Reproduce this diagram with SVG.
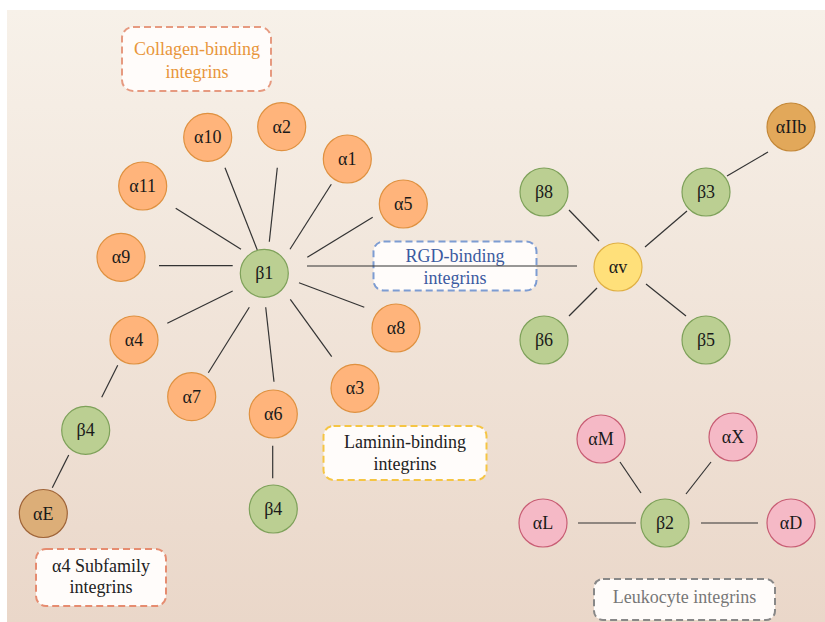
<svg xmlns="http://www.w3.org/2000/svg" width="825" height="622" viewBox="0 0 825 622">
<defs>
<linearGradient id="bg" x1="0" y1="0" x2="0" y2="1">
<stop offset="0" stop-color="#f7f1e9"/>
<stop offset="1" stop-color="#ead7c9"/>
</linearGradient>
<style>
.n text{font-family:"Liberation Serif","Times New Roman",serif;font-size:18px;fill:#1a1a1a;text-anchor:middle;dominant-baseline:central}
.o circle{fill:#ffb47b;stroke:#df9140;stroke-width:1.2}
.g circle{fill:#bbcf92;stroke:#7ea15a;stroke-width:1.2}
.p circle{fill:#f5b9c6;stroke:#c85d74;stroke-width:1.2}
.y circle{fill:#ffe07a;stroke:#e0b044;stroke-width:1.2}
.e circle{fill:#dcae78;stroke:#9f6438;stroke-width:1.2}
.b circle{fill:#e2a85a;stroke:#c48838;stroke-width:1.2}
.box rect{fill:#fffcfa;stroke-width:2;stroke-dasharray:7 4}
.box text{font-family:"Liberation Serif","Times New Roman",serif;font-size:18px;text-anchor:middle}
#edges line{stroke:#333;stroke-width:1.2}
</style>
</defs>
<rect x="0" y="0" width="825" height="622" fill="#ffffff"/>
<rect x="7" y="10" width="818" height="612" fill="url(#bg)"/>

<g id="box-collagen" class="box"><rect x="122" y="27" width="149" height="64" rx="11" stroke="#e69a80"/><text x="197" y="55" fill="#e8963a">Collagen-binding</text><text x="197" y="78" fill="#e8963a">integrins</text></g>
<g id="box-rgd" class="box"><rect x="373.5" y="241.5" width="163" height="49" rx="10" stroke="#7d9cd2"/><text x="455" y="262" fill="#3b5aa0">RGD-binding</text><text x="455" y="284" fill="#3b5aa0">integrins</text></g>
<g id="box-laminin" class="box"><rect x="323.5" y="426" width="163" height="54" rx="10" stroke="#f5c544"/><text x="405" y="448" fill="#222">Laminin-binding</text><text x="405" y="470" fill="#222">integrins</text></g>
<g id="box-a4" class="box"><rect x="36" y="549" width="130" height="57" rx="10" stroke="#e68c70"/><text x="101" y="572" fill="#222">α4 Subfamily</text><text x="101" y="593" fill="#222">integrins</text></g>
<g id="box-leuko" class="box"><rect x="594" y="579" width="181" height="41" rx="9" stroke="#888"/><text x="684.5" y="603" fill="#777">Leukocyte integrins</text></g>

<g id="edges">
<line x1="225" y1="167.7" x2="257.3" y2="250"/>
<line x1="277.3" y1="167.7" x2="269.3" y2="241.7"/>
<line x1="175.7" y1="208.3" x2="241" y2="249.3"/>
<line x1="159" y1="265.7" x2="232.7" y2="265.7"/>
<line x1="331.3" y1="184.3" x2="290" y2="249.3"/>
<line x1="372.7" y1="217.3" x2="307.3" y2="257.3"/>
<line x1="307" y1="266" x2="577" y2="266"/>
<line x1="299" y1="282.7" x2="364.3" y2="307.3"/>
<line x1="232.7" y1="291" x2="167.3" y2="323.3"/>
<line x1="249.3" y1="307.3" x2="208.3" y2="372.7"/>
<line x1="265.7" y1="307.3" x2="274" y2="381.7"/>
<line x1="290.3" y1="299.3" x2="331.7" y2="356.7"/>
<line x1="117.7" y1="365.3" x2="101.7" y2="397.3"/>
<line x1="68.7" y1="455" x2="52.3" y2="487.7"/>
<line x1="272.7" y1="445.7" x2="272.7" y2="478.3"/>
<line x1="569" y1="210" x2="599" y2="241"/>
<line x1="687" y1="211" x2="645" y2="247"/>
<line x1="727" y1="176" x2="768" y2="152"/>
<line x1="569" y1="316" x2="597" y2="288"/>
<line x1="686" y1="316" x2="646" y2="284"/>
<line x1="578" y1="523" x2="636" y2="523"/>
<line x1="701" y1="523" x2="758" y2="523"/>
<line x1="620" y1="462" x2="641" y2="493"/>
<line x1="711" y1="462" x2="686" y2="494"/>
</g>

<g id="b1" class="n g"><circle cx="264.3" cy="273.3" r="24"/><text x="264.3" y="273.3">β1</text></g>
<g id="a10" class="n o"><circle cx="207.7" cy="137.3" r="24"/><text x="207.7" y="137.3">α10</text></g>
<g id="a2" class="n o"><circle cx="281.7" cy="126.7" r="24"/><text x="281.7" y="126.7">α2</text></g>
<g id="a1" class="n o"><circle cx="347.3" cy="159" r="24"/><text x="347.3" y="159">α1</text></g>
<g id="a5" class="n o"><circle cx="403.3" cy="204" r="24"/><text x="403.3" y="204">α5</text></g>
<g id="a11" class="n o"><circle cx="142.7" cy="186" r="24"/><text x="142.7" y="186">α11</text></g>
<g id="a9" class="n o"><circle cx="121" cy="257.3" r="24"/><text x="121" y="257.3">α9</text></g>
<g id="a4" class="n o"><circle cx="134" cy="340" r="24"/><text x="134" y="340">α4</text></g>
<g id="a7" class="n o"><circle cx="191.7" cy="396.7" r="24"/><text x="191.7" y="396.7">α7</text></g>
<g id="a6" class="n o"><circle cx="273.3" cy="414" r="24"/><text x="273.3" y="414">α6</text></g>
<g id="a3" class="n o"><circle cx="355" cy="388.3" r="24"/><text x="355" y="388.3">α3</text></g>
<g id="a8" class="n o"><circle cx="396" cy="328" r="24"/><text x="396" y="328">α8</text></g>
<g id="b4a" class="n g"><circle cx="85.7" cy="430.3" r="24"/><text x="85.7" y="430.3">β4</text></g>
<g id="aE" class="n e"><circle cx="43.3" cy="513.5" r="24"/><text x="43.3" y="513.5">αE</text></g>
<g id="b4b" class="n g"><circle cx="273.3" cy="509" r="24"/><text x="273.3" y="509">β4</text></g>
<g id="av" class="n y"><circle cx="618" cy="267" r="24"/><text x="618" y="267">αv</text></g>
<g id="b8" class="n g"><circle cx="544" cy="192" r="24"/><text x="544" y="192">β8</text></g>
<g id="b3" class="n g"><circle cx="706" cy="192" r="24"/><text x="706" y="192">β3</text></g>
<g id="aIIb" class="n b"><circle cx="791" cy="127" r="24"/><text x="791" y="127">αIIb</text></g>
<g id="b6" class="n g"><circle cx="544" cy="340" r="24"/><text x="544" y="340">β6</text></g>
<g id="b5" class="n g"><circle cx="706" cy="340" r="24"/><text x="706" y="340">β5</text></g>
<g id="b2" class="n g"><circle cx="665" cy="523" r="24"/><text x="665" y="523">β2</text></g>
<g id="aM" class="n p"><circle cx="601" cy="439" r="24"/><text x="601" y="439">αM</text></g>
<g id="aX" class="n p"><circle cx="733" cy="437" r="24"/><text x="733" y="437">αX</text></g>
<g id="aL" class="n p"><circle cx="543" cy="523" r="24"/><text x="543" y="523">αL</text></g>
<g id="aD" class="n p"><circle cx="791" cy="523" r="24"/><text x="791" y="523">αD</text></g>
</svg>
